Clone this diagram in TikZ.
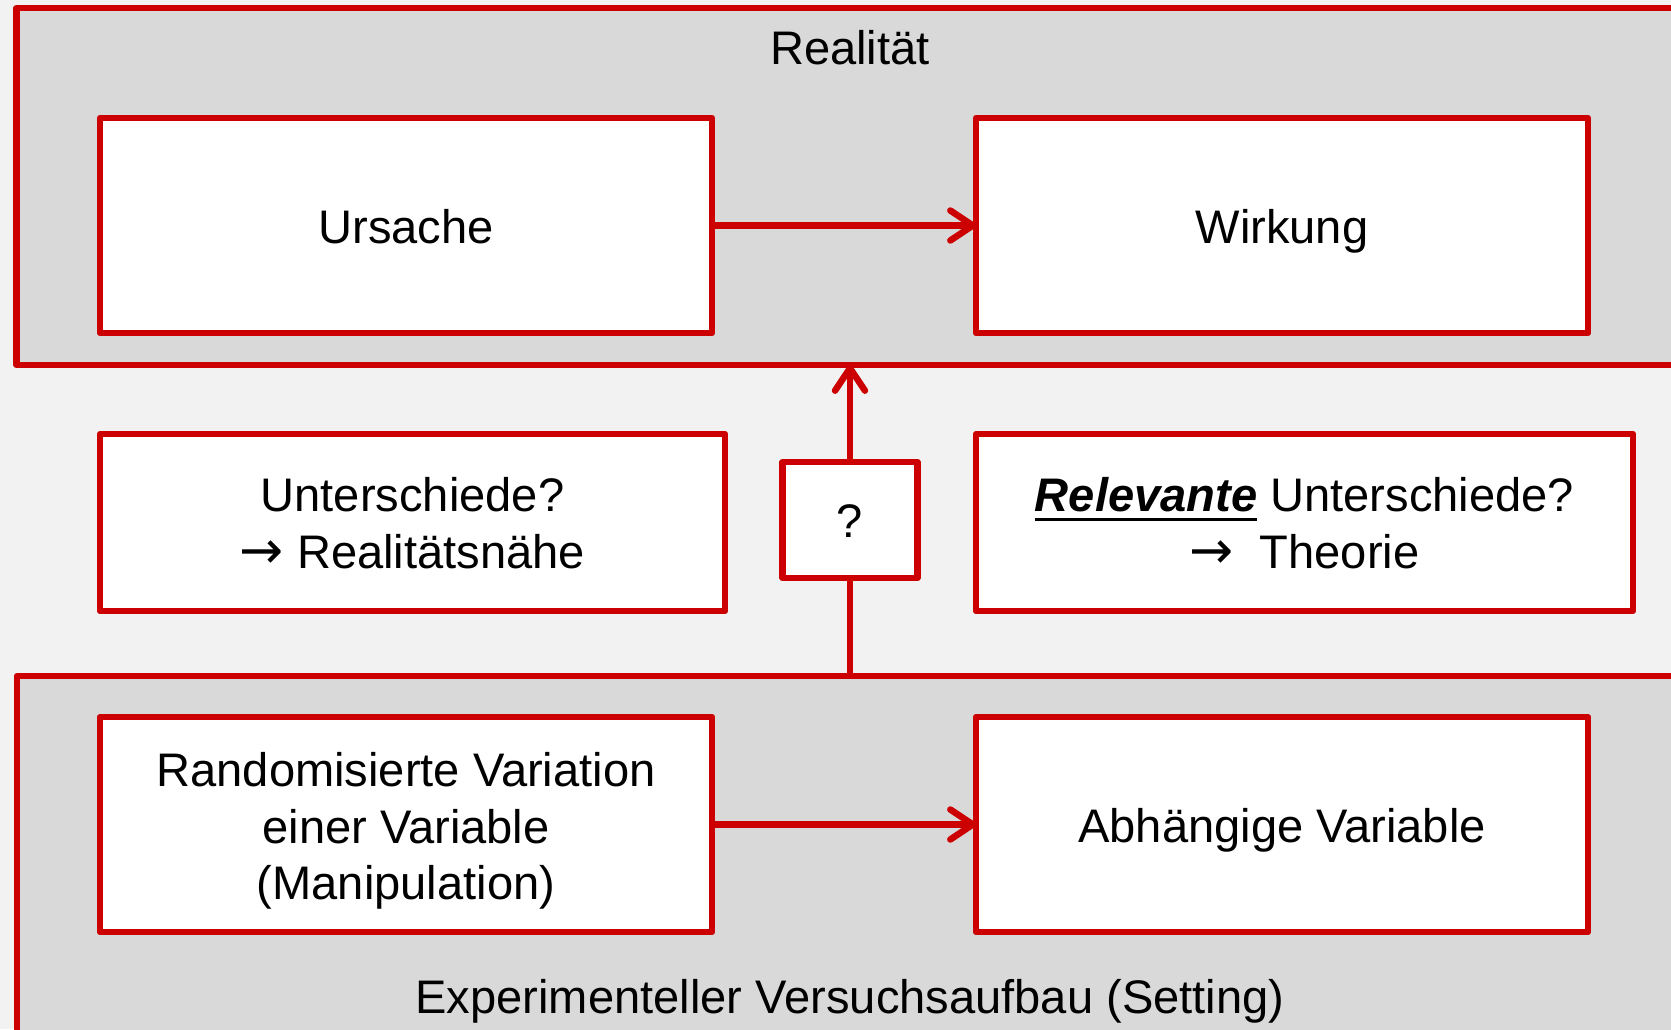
\documentclass[tikz,border=0pt]{standalone}
\usepackage{fontspec}
\setmainfont{Liberation Sans}
\newfontfamily\pfeilfont{DejaVu Sans}
\usetikzlibrary{arrows.meta}
\definecolor{rot}{HTML}{CC0000}
\definecolor{grau}{HTML}{D9D9D9}
\definecolor{hell}{HTML}{F2F2F2}
\newcommand\schrift{\fontsize{26.8}{32.2}\selectfont}
\newcommand\zeilenstuetze{\rule[-6pt]{0pt}{32pt}}
\newcommand\oben[1]{\rule{0pt}{#1}}
\newcommand\pfeilzeichen{{\pfeilfont\fontsize{30}{30}\selectfont →}}
\newcommand\unterstrich[1]{\setbox0\hbox{#1}\rlap{\rule[-5pt]{\wd0}{1.4pt}}\box0{}}
\begin{document}
\begin{tikzpicture}[x=0.02cm,y=-0.02cm,
  rahmen/.style={draw=rot,line width=0.13cm,line join=round,fill=grau,anchor=north west,inner sep=0pt,outer sep=0pt},
  kasten/.style={draw=rot,line width=0.13cm,line join=round,fill=white,align=center,inner sep=0pt,outer sep=0pt,
    font=\schrift,execute at begin node=\zeilenstuetze,execute at end node=\zeilenstuetze},
  pfeil/.style={draw=rot,line width=0.13cm,-{Straight Barb[length=0.45cm,width=0.6cm,round]}}]
\clip (0,0) rectangle (1671,1029);
\fill[hell] (0,0) rectangle (1671,1029);
\node[rahmen,minimum width=33.67cm,minimum height=7.14cm] (realitaet) at (16.5,8) {};
\node[font=\schrift] (realitaettitel) at (850,48) {Realität};
\node[rahmen,minimum width=33.66cm,minimum height=8cm] (setting) at (17,676) {};
\node[font=\schrift] (settingtitel) at (850,1001) {Experimenteller Versuchsaufbau (Setting)};
\node[kasten,minimum width=12.24cm,minimum height=4.3cm] (ursache) at (406,225.5) {Ursache};
\node[kasten,minimum width=12.24cm,minimum height=4.3cm] (wirkung) at (1282,225.5) {Wirkung};
\node[kasten,minimum width=12.5cm,minimum height=3.54cm] (unterschiede) at (412.5,522.5) {\oben{26.2pt}Unterschiede?\\\pfeilzeichen\ Realitätsnähe};
\node[kasten,minimum width=2.7cm,minimum height=2.32cm] (frage) at (850,520) {?};
\node[kasten,minimum width=13.14cm,minimum height=3.54cm] (relevante) at (1304.5,522.5) {\oben{26.2pt}\unterstrich{\textbf{\textit{Relevante}}} Unterschiede?\\\pfeilzeichen\ \ Theorie};
\node[kasten,minimum width=12.24cm,minimum height=4.3cm] (manipulation) at (406,824.5) {\oben{27.4pt}Randomisierte Variation\\einer Variable\\(Manipulation)};
\node[kasten,minimum width=12.24cm,minimum height=4.3cm] (abhaengig) at (1282,824.5) {Abhängige Variable};
\draw[pfeil] (ursache) -- (wirkung);
\draw[pfeil] (manipulation) -- (abhaengig);
\draw[pfeil] (frage) -- (realitaet.south -| frage);
\draw[draw=rot,line width=0.13cm] (setting.north -| frage) -- (frage);
\end{tikzpicture}
\end{document}
